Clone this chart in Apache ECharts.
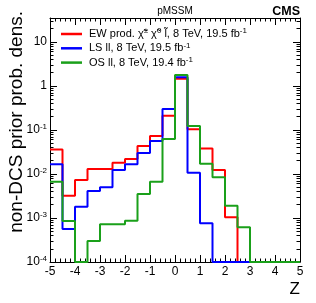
<!DOCTYPE html>
<html><head><meta charset="utf-8">
<script src="https://cdn.jsdelivr.net/npm/echarts@6/dist/echarts.min.js"></script>
<style>html,body{margin:0;padding:0;background:#fff}#c{width:316px;height:303px}</style>
</head><body><div id="c"></div>
<script>
// bin edges of the Z histogram (20 bins of width 0.5)
const binEdges = [-5,-4.5,-4,-3.5,-3,-2.5,-2,-1.5,-1,-0.5,0,0.5,1,1.5,2,2.5,3,3.5,4,4.5,5];
// series values per bin (0 = empty bin)
const ewProd = [0.036,0.0032,0.0073,0.013,0.013,0.018,0.022,0.043,0.073,0.21,1.45,0.104,0.038,0.0123,0.00104,0,0,0,0,0];
const lsLL   = [0.0166,0.00056,0.0018,0.0041,0.005,0.0123,0.0166,0.030,0.056,0.30,1.58,0.0107,0.00076,0,0,0,0,0,0,0];
const osLL   = [0.0067,0.00085,0,0.0003,0.00072,0.00072,0.00087,0.0035,0.0067,0.062,1.78,0.123,0.017,0.0084,0.0019,0.00062,0,0,0,0];
const seriesNames = ['EW', 'LS', 'OS'];
const legendTexts = {
  EW: 'EW prod. \u03C7\u0303{s|\u00B1} \u03C7\u0303{s|0} l\u0303, 8 TeV, 19.5 fb{s|-1}',
  LS: 'LS ll, 8 TeV, 19.5 fb{s|-1}',
  OS: 'OS ll, 8 TeV, 19.4 fb{s|-1}'
};
const xTickLabels = [-5,-4,-3,-2,-1,0,1,2,3,4,5];
const yTickLabels = ['10^-4','10^-3','10^-2','10^-1','1','10'];
const Y_MIN = 1e-4, Y_MAX = 35;

const FONT = 'Liberation Sans';
function steps(vals){
  const d = vals.map((v,i)=>[binEdges[i], Math.max(v, Y_MIN)]);
  d.push([binEdges[binEdges.length-1], Math.max(vals[vals.length-1], Y_MIN)]);
  return d;
}
const colors = {EW:'#ff0000', LS:'#0000ff', OS:'#1aa01a'};
const dataMap = {EW: ewProd, LS: lsLL, OS: osLL};
const chart = echarts.init(document.getElementById('c'), null, {renderer:'canvas'});
const sup = {fontSize: 8, fontFamily: FONT, padding:[0,0,6,0], color:'#000'};
function yFmt(v){
  const l = Math.log10(v), e = Math.round(l);
  if (Math.abs(l-e) > 1e-6) return '';
  const idx = e + 4;
  const s = yTickLabels[idx];
  if (s === undefined) return '';
  if (s.indexOf('^') < 0) return s;
  const parts = s.split('^');
  return parts[0] + '{s|' + parts[1] + '}';
}
const xAxisBase = {
  type:'value', min: xTickLabels[0], max: xTickLabels[xTickLabels.length-1], interval: 1,
  axisLine:{show:true, onZero:false, lineStyle:{color:'#000', width:1}},
  axisTick:{show:true, inside:true, length:7, lineStyle:{color:'#000'}},
  minorTick:{show:true, splitNumber:5, length:3.5, lineStyle:{color:'#000'}},
  splitLine:{show:false}, minorSplitLine:{show:false}
};
const yAxisBase = {
  type:'log', logBase:10, min: Y_MIN, max: Y_MAX,
  axisLine:{show:true, onZero:false, lineStyle:{color:'#000', width:1}},
  axisTick:{show:true, inside:true, length:7, lineStyle:{color:'#000'}},
  minorTick:{show:true, splitNumber:9, length:3.5, lineStyle:{color:'#000'}},
  splitLine:{show:false}, minorSplitLine:{show:false}
};
const option = {
  animation:false,
  grid:{left:50, right:16, top:18, bottom:41, containLabel:false},
  xAxis:[
    Object.assign({}, xAxisBase, {position:'bottom',
      axisLabel:{show:true, fontSize:12, fontFamily:FONT, color:'#000', margin:4,
        formatter: v => String(v)}}),
    Object.assign({}, xAxisBase, {position:'top', axisLabel:{show:false}})
  ],
  yAxis:[
    Object.assign({}, yAxisBase, {position:'left',
      axisLabel:{show:true, fontSize:12, fontFamily:FONT, color:'#000', margin:3,
        formatter: yFmt, rich:{s: sup}}}),
    Object.assign({}, yAxisBase, {position:'right', axisLabel:{show:false}})
  ],
  legend: seriesNames.map((n,i)=>({
    data:[n], left:61, top: 27 + i*14.3, orient:'vertical',
    icon:'rect', itemWidth:21, itemHeight:2.5, padding:0,
    formatter: name => legendTexts[name],
    textStyle:{fontSize:11, fontFamily:FONT, color:'#000', padding:[0,0,0,2], rich:{s: sup}},
    selectedMode:false
  })),
  series: seriesNames.map((n,i)=>({
    name:n, type:'line', step:'end', xAxisIndex:0, yAxisIndex:0,
    data: steps(dataMap[n]), symbol:'none', showSymbol:false, clip:false,
    lineStyle:{color:colors[n], width:2}, itemStyle:{color:colors[n]},
    z: 2+i
  })),
  graphic:[
    {type:'text', x:17, y:11, rotation:Math.PI/2,
      style:{text:'non-DCS prior prob. dens.', fontSize:19, fontFamily:FONT, fill:'#000', align:'right', verticalAlign:'middle'}},
    {type:'text', x:300, y:289, style:{text:'Z', fontSize:17, fontFamily:FONT, fill:'#000', align:'right', verticalAlign:'middle'}},
    {type:'text', x:175, y:11.5, style:{text:'pMSSM', fontSize:10, fontFamily:FONT, fill:'#000', align:'center', verticalAlign:'middle'}},
    {type:'text', x:300, y:12, style:{text:'CMS', fontSize:12.5, fontWeight:'bold', fontFamily:FONT, fill:'#000', align:'right', verticalAlign:'middle'}}
  ]
};
chart.setOption(option);
</script></body></html>
